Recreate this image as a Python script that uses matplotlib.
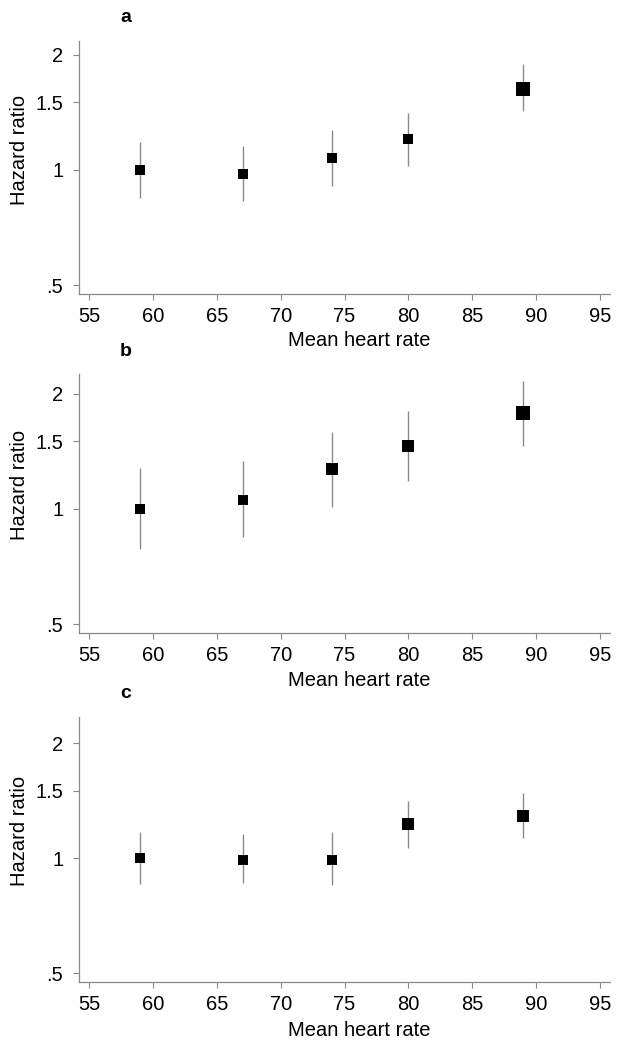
import matplotlib
matplotlib.use("Agg")
import matplotlib.pyplot as plt
from matplotlib.ticker import FixedLocator, NullLocator

plt.rcParams['font.family'] = ['Liberation Sans', 'DejaVu Sans']

# mean heart rate groups (same for all panels)
heart_rate = [59, 67, 74, 80, 89]

# panel a
hr_a = [1.00, 0.974, 1.077, 1.202, 1.63]
lo_a = [0.845, 0.827, 0.910, 1.024, 1.426]
hi_a = [1.18, 1.153, 1.274, 1.408, 1.887]
msize_a = [7.9, 7.7, 7.9, 7.9, 9.9]

# panel b
hr_b = [1.00, 1.056, 1.27, 1.456, 1.777]
lo_b = [0.784, 0.843, 1.014, 1.179, 1.462]
hi_b = [1.278, 1.333, 1.591, 1.798, 2.159]
msize_b = [7.9, 7.9, 8.8, 8.8, 9.6]

# panel c
hr_c = [1.00, 0.991, 0.991, 1.229, 1.29]
lo_c = [0.854, 0.86, 0.85, 1.062, 1.128]
hi_c = [1.169, 1.153, 1.167, 1.414, 1.48]
msize_c = [7.9, 7.9, 7.9, 8.4, 8.8]

panel_labels = ['a', 'b', 'c']
y_ticks = [0.5, 1, 1.5, 2]
y_ticklabels = ['.5', '1', '1.5', '2']
x_ticks = [55, 60, 65, 70, 75, 80, 85, 90, 95]

W, H = 630, 1048
fig = plt.figure(figsize=(W / 100, H / 100), dpi=100)

# (top px, bottom px, y upper limit) for each panel
layout = [(41, 294, 2.17), (374, 633, 2.25), (717, 982, 2.34)]
panels = [(hr_a, lo_a, hi_a, msize_a), (hr_b, lo_b, hi_b, msize_b), (hr_c, lo_c, hi_c, msize_c)]

grey = '#8a8a8a'
left_px, right_px = 79.3, 610

for (top, bot, ymax), (hr, lo, hi, ms), lab in zip(layout, panels, panel_labels):
    ax = fig.add_axes([left_px / W, 1 - bot / H, (right_px - left_px) / W, (bot - top) / H])
    ax.set_yscale('log')
    ax.set_ylim(0.474, ymax)
    ax.set_xlim(54.21, 95.8)

    ax.vlines(heart_rate, lo, hi, color=grey, lw=1.0, zorder=1)
    for x, y, s in zip(heart_rate, hr, ms):
        ax.plot(x, y, marker='s', color='black', markersize=s, mew=0, ls='none', zorder=2)

    ax.yaxis.set_major_locator(FixedLocator(y_ticks))
    ax.yaxis.set_minor_locator(NullLocator())
    ax.set_yticklabels(y_ticklabels)
    ax.set_xticks(x_ticks)

    for s in ['top', 'right']:
        ax.spines[s].set_visible(False)
    for s in ['left', 'bottom']:
        ax.spines[s].set_color(grey)
        ax.spines[s].set_linewidth(0.9)
    ax.tick_params(axis='both', colors=grey, labelcolor='black', labelsize=14.5,
                   length=4.5, width=0.8)
    ax.tick_params(axis='y', pad=7)
    ax.tick_params(axis='x', pad=5)

    ax.set_ylabel('Hazard ratio', fontsize=14.5)
    ax.yaxis.set_label_coords(-0.094, 0.57)
    ax.set_xlabel('Mean heart rate', fontsize=14.5)
    ax.xaxis.set_label_coords(0.527, -0.148)

    fig.text(120 / W, 1 - (top - 23) / H, lab, fontsize=14, fontweight='bold', va='center', ha='left')

fig.savefig('out.png', dpi=100, facecolor='white')
